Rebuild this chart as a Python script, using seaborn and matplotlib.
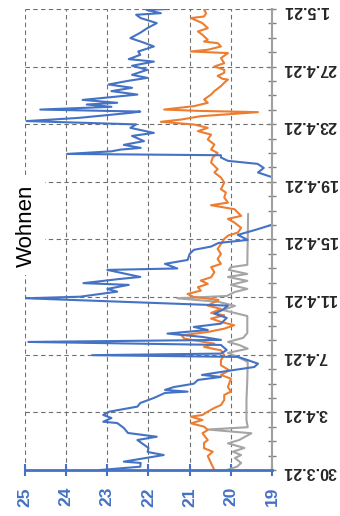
import matplotlib
matplotlib.use('Agg')
import matplotlib.pyplot as plt
from matplotlib.ticker import MultipleLocator
import seaborn as sns

# time in days since 30.3.21, temperature in °C
blue_days = [0.00, 0.23, 0.49, 0.58, 1.04, 1.25, 1.53, 2.08, 2.31, 2.57, 2.92, 3.26, 3.35, 3.61, 3.82,
             4.05, 4.40, 4.65, 5.00, 5.35, 5.44, 5.56, 5.76, 5.99, 6.25, 6.46, 6.60, 6.88, 7.15, 7.38,
             7.64, 7.85, 7.97, 8.08, 8.33, 8.68, 8.89, 9.03, 9.24, 9.47, 9.72, 9.93, 10.16, 10.56,
             10.85, 11.11, 11.41, 11.92, 12.03, 12.38, 12.57, 12.85, 12.97, 13.26, 13.40, 13.89,
             13.99, 14.31, 14.58, 15.00, 15.28, 15.51, 15.76, 15.97, 16.32, 16.67, 17.08, 18.75,
             20.14, 20.65, 20.97, 21.25, 21.46, 21.69, 21.85, 21.94, 22.12, 22.24, 22.36, 22.57,
             22.83, 23.19, 23.40, 23.75, 23.99, 24.22, 24.44, 24.79, 24.88, 25.02, 25.21, 25.37,
             25.49, 25.69, 26.06, 26.30, 26.53, 26.76, 27.01, 27.22, 27.43, 27.78, 28.06, 28.35,
             28.52, 28.82, 29.05, 29.40, 29.65, 29.98, 30.35, 30.67, 31.02, 31.37, 31.60, 31.71,
             31.94, 32.00]
blue_temp = [23.17, 22.2, 22.19, 22.6, 21.63, 22.02, 22.0, 22.27, 21.8, 22.5, 22.6, 22.76, 23.1, 22.9, 23.1,
             22.95, 22.27, 22.2, 21.87, 21.6, 21.05, 21.6, 21.38, 20.9, 20.8, 20.24, 20.7, 20.07, 19.43, 19.34,
             19.6, 19.83, 23.37, 20.24, 20.1, 20.24, 24.92, 20.24, 20.7, 21.54, 20.56, 20.9, 20.24, 20.1,
             20.4, 20.2, 20.07, 24.97, 23.66, 22.76, 23.0, 22.48, 23.58, 22.7, 22.2, 23.0,
             21.3, 21.6, 21.05, 21.0, 20.9, 20.48, 20.3, 19.59, 19.83, 19.4, 18.94, 18.6,
             18.8, 19.34, 19.2, 19.35, 20.07, 20.24, 20.24, 23.98, 22.9, 22.68, 22.19, 22.6,
             22.11, 22.4, 21.87, 22.44, 22.3, 24.96, 23.7, 22.44, 22.2, 24.63, 22.9, 23.5,
             22.76, 23.6, 22.27, 22.9, 22.4, 22.97, 22.5, 22.03, 22.4, 22.03, 22.4, 21.87,
             22.48, 22.2, 22.25, 21.87, 22.1, 22.44, 22.2, 22.03, 21.8, 22.19, 22.3, 21.7,
             22.05, 21.54]

orange_days = [0.00, 0.47, 0.97, 1.27, 1.51, 1.88, 2.08, 2.55, 2.78, 3.01, 3.24, 3.47, 3.70, 3.82, 4.05,
               4.31, 4.51, 4.86, 5.21, 5.44, 5.76, 6.34, 6.60, 6.92, 7.27, 7.64, 7.97, 8.31, 8.54, 8.77,
               9.12, 9.35, 9.58, 9.81, 10.05, 10.28, 10.51, 10.74, 10.90, 11.18, 11.41, 11.81, 12.01,
               12.22, 12.45, 12.69, 12.92, 13.15, 13.38, 13.73, 14.08, 14.31, 14.65, 15.00, 15.35,
               15.69, 16.04, 16.27, 16.48, 16.81, 17.17, 17.43, 17.64, 17.87, 18.10, 18.38, 18.56,
               18.91, 19.26, 19.49, 19.95, 20.30, 20.65, 20.88, 21.34, 21.69, 22.01, 22.24, 22.59,
               22.94, 23.28, 23.52, 23.75, 23.98, 24.17, 24.33, 24.56, 24.84, 24.93, 25.02, 25.26,
               25.49, 25.72, 26.06, 26.30, 26.65, 26.88, 27.10, 27.15, 27.36, 27.57, 27.78, 28.01,
               28.24, 28.59, 28.94, 29.05, 29.17, 29.40, 29.63, 29.74, 29.86, 30.21, 30.44, 30.67,
               31.02, 31.37, 31.48, 31.71, 31.94, 32.00]
orange_temp = [20.4, 20.48, 20.56, 20.44, 20.65, 20.65, 20.56, 20.69, 20.56, 20.65, 20.97, 20.69, 20.97, 20.69, 20.56,
               20.4, 20.24, 20.16, 20.16, 20.0, 20.07, 20.0, 20.24, 20.04, 20.24, 20.24, 20.16, 20.24, 20.65, 20.4,
               21.13, 21.2, 20.56, 20.16, 19.92, 20.24, 20.48, 20.16, 20.48, 20.24, 20.56, 20.3, 20.9,
               21.05, 20.73, 20.8, 20.56, 20.73, 20.48, 20.4, 20.48, 20.24, 20.32, 20.24, 20.32,
               20.24, 20.16, 20.07, 19.83, 19.75, 19.91, 20.07, 19.75, 19.83, 19.91, 20.48, 20.07,
               20.16, 20.12, 20.24, 20.16, 20.24, 20.4, 20.32, 20.48, 20.44, 20.32, 20.48, 20.4,
               20.56, 20.48, 20.8, 20.56, 20.89, 21.7, 21.2, 20.73, 19.34, 20.8, 21.62, 20.89,
               20.56, 20.65, 20.48, 20.4, 20.24, 20.16, 20.07, 20.2, 20.32, 20.16, 20.16, 20.4,
               20.16, 20.24, 20.07, 20.97, 20.56, 20.24, 20.32, 20.65, 20.56, 20.69, 20.8, 20.56,
               20.69, 20.97, 20.65, 20.6, 20.65, 20.6]

gray_days = [0.00, 0.23, 0.49, 0.83, 1.04, 1.27, 1.53, 1.85, 2.08, 2.55, 2.81, 2.97, 3.47, 4.86, 6.25,
             7.50, 7.85, 8.13, 8.42, 8.68, 8.89, 9.17, 9.51, 10.69, 10.85, 11.11, 11.39, 11.67, 11.92,
             12.08, 12.36, 12.57, 12.85, 13.13, 13.40, 13.61, 13.89, 14.08, 14.24, 17.78]
gray_temp = [20.1, 19.85, 19.75, 19.9, 19.75, 19.95, 19.67, 20.07, 19.8, 19.5, 20.56, 19.59, 19.62, 19.62, 19.6,
             19.59, 19.83, 20.07, 19.59, 19.8, 20.07, 19.7, 19.6, 19.6, 19.83, 20.2, 19.9, 20.3, 21.3,
             20.1, 19.9, 19.6, 20.0, 19.6, 20.07, 19.6, 20.05, 20.0, 19.6, 19.58]

date_ticks = [0, 4, 8, 12, 16, 20, 24, 28, 32]
date_labels = ['30.3.21', '3.4.21', '7.4.21', '11.4.21', '15.4.21', '19.4.21', '23.4.21', '27.4.21', '1.5.21']
temp_ticks = [25, 24, 23, 22, 21, 20, 19]
title = 'Wohnen'

sns.set_style('white')
plt.rcParams['font.family'] = ['Liberation Sans', 'DejaVu Sans']

blue = '#4472C4'
orange = '#ED7D31'
gray = '#A5A5A5'

fig = plt.figure(figsize=(3.4, 5.16), dpi=100)
ax = fig.add_axes([25 / 340, 46 / 516, 247 / 340, 461 / 516])

# chart is drawn turned by 90 degrees: dates run upwards, temperature runs right to left
sns.lineplot(x=gray_temp, y=gray_days, sort=False, estimator=None, color=gray, lw=1.5, ax=ax)
sns.lineplot(x=orange_temp, y=orange_days, sort=False, estimator=None, color=orange, lw=1.5, ax=ax)
sns.lineplot(x=blue_temp, y=blue_days, sort=False, estimator=None, color=blue, lw=1.5, ax=ax)

ax.set_xlim(25, 19)
ax.set_ylim(0, 32)
ax.set_xlabel('')
ax.set_ylabel('')

ax.set_xticks(temp_ticks)
ax.set_xticklabels([str(t) for t in temp_ticks], rotation=90, color=blue, fontweight='bold', fontsize=12.5)
ax.yaxis.tick_right()
ax.set_yticks(date_ticks)
ax.set_yticklabels(date_labels, rotation=180, fontweight='bold', fontsize=11.5)
ax.yaxis.set_minor_locator(MultipleLocator(1))

ax.tick_params(axis='x', bottom=True, direction='inout', length=8.5, width=1.5, color=blue, pad=8)
ax.tick_params(axis='y', which='both', direction='inout', length=6, width=1, color='#808080', pad=5)

ax.grid(True, which='major', ls=(0, (4, 3)), color='#6f6f6f', lw=0.8)
for s in ['top', 'left']:
    ax.spines[s].set_visible(False)
ax.spines['right'].set_color('#a0a0a0')
ax.spines['right'].set_linewidth(1.5)
ax.spines['bottom'].set_color(blue)
ax.spines['bottom'].set_linewidth(2)

ax.text(0.005, 0.53, title, transform=ax.transAxes, rotation=90, ha='center', va='center',
        fontsize=16, color='black', zorder=10,
        bbox=dict(facecolor='white', edgecolor='none', pad=6))

fig.savefig('out.png', dpi=100)
